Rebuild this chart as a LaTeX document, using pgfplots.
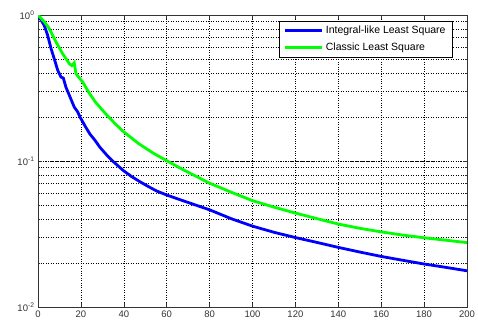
\documentclass[border=0pt]{standalone}
\usepackage{pgfplots}
\pgfplotsset{compat=1.18}
\usepackage{fontspec}
\setmainfont{Liberation Sans}
\definecolor{mblue}{RGB}{0,0,255}
\definecolor{mgreen}{RGB}{0,255,0}
\begin{document}
\begin{tikzpicture}
\begin{semilogyaxis}[
  scale only axis,
  width=429pt, height=292pt,
  xmin=0, xmax=200, ymin=0.01, ymax=1,
  xtick={0,20,...,200},
  ytick={0.01,0.1,1},
  yticklabels={10\textsuperscript{-2},10\textsuperscript{-1},10\textsuperscript{0}},
  /pgf/number format/assume math mode=true,
  tick label style={font=\fontsize{9.5}{10}\selectfont, text=black!80},
  tick align=inside,
  major tick length=4pt, minor tick length=2pt,
  xmajorgrids, ymajorgrids, yminorgrids,
  grid style={black, dotted, line width=0.5pt},
  minor grid style={black, dotted, line width=0.5pt},
  axis line style={black!80, line width=0.6pt},
  tick style={black!80, line width=0.5pt},
  legend style={at={(0.967,0.98)}, anchor=north east, draw=black, line width=0.6pt,
    font=\fontsize{10.5}{13}\selectfont, cells={anchor=west}, inner xsep=5pt, inner ysep=3pt,
    row sep=4pt},
  legend image code/.code={\draw[#1, line width=2.8pt] (0pt,0pt) -- (37pt,0pt);},
]
\addplot[mblue, line width=2.8pt] coordinates {
(0,1.0) (2.9,0.85) (4.5,0.726) (6.1,0.588) (7.6,0.50) (9.2,0.418) (10.7,0.376)
(11.8,0.37) (13,0.321) (14.6,0.282) (16.9,0.234) (18.5,0.217) (19.6,0.200)
(22,0.173) (24.2,0.153) (26.5,0.139) (28.9,0.124) (32,0.110) (35.1,0.099) (39.8,0.086)
(43.5,0.0785) (47.6,0.072) (51.5,0.0668) (55.3,0.0623) (60,0.0585) (64.7,0.0553)
(72,0.0508) (80,0.0463) (90,0.0403) (100,0.0358) (110,0.0325) (120,0.0299) (130,0.0277)
(140,0.0256) (150,0.0238) (160,0.0222) (170,0.0209) (180,0.0197) (190,0.0187) (200,0.0177)
};
\addlegendentry{Integral-like Least Square}
\addplot[mgreen, line width=2.8pt] coordinates {
(0,1.0) (2.9,0.90) (5.3,0.806) (8.4,0.653) (11.5,0.543) (14.6,0.464) (15.8,0.45)
(16.9,0.47) (17.7,0.396) (20.8,0.348) (23.5,0.298) (26.6,0.255) (29.7,0.226) (32.8,0.201)
(36.3,0.178) (39.8,0.159) (43.3,0.145) (46.8,0.132) (50.3,0.122) (53.8,0.113) (60,0.1005)
(66.2,0.0895) (73,0.0795) (80,0.0705) (90,0.0612) (100,0.0535) (110,0.0483) (120,0.0440)
(130,0.0403) (140,0.0370) (150,0.0346) (160,0.0327) (170,0.0311) (180,0.0298) (190,0.0287) (200,0.0276)
};
\addlegendentry{Classic Least Square}
\end{semilogyaxis}
\pgfresetboundingbox
\path (-38pt,-21pt) rectangle (440pt,307pt);
\end{tikzpicture}
\end{document}
